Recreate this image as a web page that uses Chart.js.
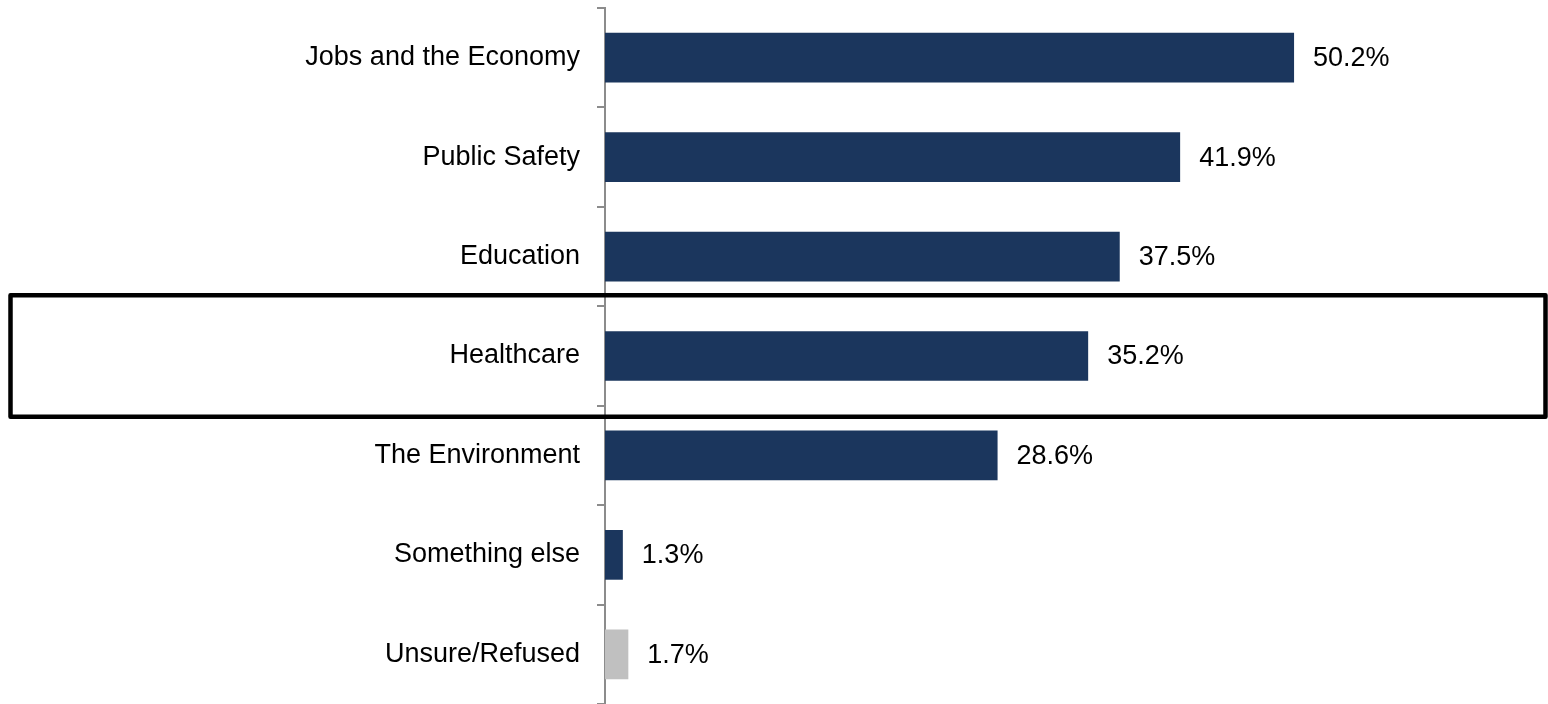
<!DOCTYPE html>
<html>
<head>
<meta charset="utf-8">
<script src="https://cdn.jsdelivr.net/npm/chart.js@4"></script>
<style>
  html, body { margin: 0; padding: 0; background: #ffffff; }
  #wrap { width: 1548px; height: 704px; position: relative; }
</style>
</head>
<body>
<div id="wrap"><canvas id="issuesChart"></canvas></div>
<script>
// Categorias e valores (%)
const categories = ["Jobs and the Economy", "Public Safety", "Education", "Healthcare", "The Environment", "Something else", "Unsure/Refused"];
const values = [50.2, 41.9, 37.5, 35.2, 28.6, 1.3, 1.7];
const barColors = ["#1b365d", "#1b365d", "#1b365d", "#1b365d", "#1b365d", "#1b365d", "#c0c0c0"];
const highlighted = "Healthcare";

const FONT = "'Liberation Sans', Arial, Helvetica, sans-serif";

// Rótulos de valor no fim de cada barra
const valueLabels = {
  id: "valueLabels",
  afterDatasetsDraw(chart) {
    const ctx = chart.ctx;
    const meta = chart.getDatasetMeta(0);
    ctx.save();
    ctx.font = "27px " + FONT;
    ctx.fillStyle = "#000000";
    ctx.textAlign = "left";
    ctx.textBaseline = "middle";
    meta.data.forEach(function (bar, i) {
      ctx.fillText(values[i].toFixed(1) + "%", bar.x + 19, bar.y + 1);
    });
    ctx.restore();
  }
};

// Caixa em volta da categoria destacada
const highlightBox = {
  id: "highlightBox",
  afterDraw(chart) {
    const y = chart.scales.y;
    const idx = categories.indexOf(highlighted);
    const step = y.getPixelForValue(1) - y.getPixelForValue(0);
    const top = y.getPixelForValue(idx) - step / 2 - 11;
    const bottom = y.getPixelForValue(idx) + step / 2 + 11;
    const ctx = chart.ctx;
    ctx.save();
    ctx.strokeStyle = "#000000";
    ctx.lineWidth = 4.5;
    ctx.lineJoin = "round";
    ctx.strokeRect(10.5, top, chart.width - 13, bottom - top);
    ctx.restore();
  }
};

new Chart("issuesChart", {
  type: "bar",
  data: {
    labels: categories,
    datasets: [{
      data: values,
      backgroundColor: barColors,
      barPercentage: 0.5,
      categoryPercentage: 1.0
    }]
  },
  options: {
    indexAxis: "y",
    responsive: true,
    maintainAspectRatio: false,
    animation: false,
    layout: { padding: { top: 8, right: 0, bottom: 0, left: 0 } },
    plugins: {
      legend: { display: false },
      title: { display: false },
      tooltip: { enabled: false }
    },
    scales: {
      x: {
        display: false,
        min: 0,
        max: 68.7
      },
      y: {
        afterFit(scale) {
          scale.width = 605;
          scale.paddingTop = 0;
          scale.paddingBottom = 0;
        },
        border: { display: true, color: "#8c8c8c", width: 2 },
        grid: {
          drawOnChartArea: false,
          drawTicks: true,
          tickLength: 8,
          color: "#8c8c8c",
          lineWidth: 2
        },
        ticks: {
          color: "#000000",
          padding: 17,
          font: { family: FONT, size: 27 }
        }
      }
    }
  },
  plugins: [valueLabels, highlightBox]
});
</script>
</body>
</html>
